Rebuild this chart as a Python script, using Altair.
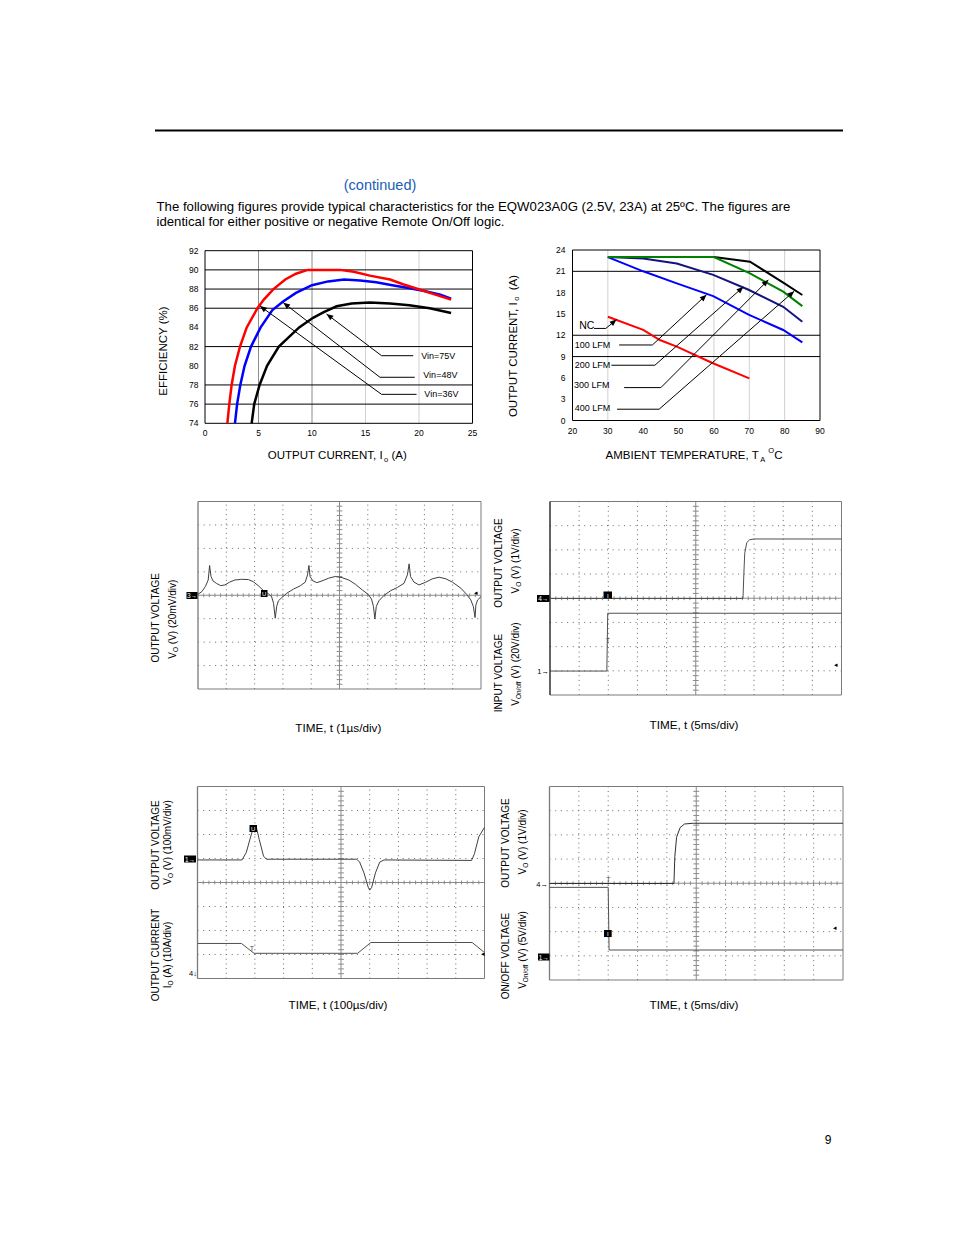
import altair as alt
import pandas as pd

FONT = "Liberation Sans"
MARGIN = 8
W, H = 938, 1219

# ===================== data =====================
# Efficiency vs output current
EFF_IO_36 = [2.09, 2.27, 2.49, 2.8, 3.27, 3.9, 4.9, 5.5, 6.4, 7.5, 8.5, 9.6, 12.6, 13.9, 15.4, 17.3, 18.5, 19.9, 21.3, 23.0]
EFF_36 = [74.0, 76.0, 78.0, 80.0, 82.0, 84.0, 86.0, 86.9, 88.0, 89.0, 89.6, 90.0, 90.0, 89.8, 89.4, 89.0, 88.5, 88.0, 87.5, 86.9]
EFF_IO_48 = [2.8, 3.0, 3.3, 3.7, 4.3, 5.2, 6.3, 7.3, 8.5, 10.0, 11.5, 13.0, 14.5, 16.0, 17.5, 19.0, 20.5, 22.0, 23.0]
EFF_48 = [74.0, 76.0, 78.0, 80.0, 82.0, 84.0, 85.8, 86.7, 87.6, 88.4, 88.8, 89.0, 88.9, 88.7, 88.4, 88.1, 87.8, 87.4, 87.0]
EFF_IO_75 = [4.36, 4.6, 5.1, 5.8, 6.9, 8.8, 10.1, 11.1, 12.3, 13.7, 15.4, 17.3, 19.1, 21.0, 23.0]
EFF_75 = [74.0, 76.0, 78.0, 80.0, 82.0, 84.0, 85.0, 85.6, 86.2, 86.5, 86.6, 86.5, 86.3, 86.0, 85.5]
EFF_LABELS = ["Vin=75V", "Vin=48V", "Vin=36V"]
EFF_LABEL_IO = [20.2, 20.4, 20.5]
EFF_LABEL_EFF = [81.0, 79.0, 77.1]
EFF_LEADER_START = [19.46, 19.6, 19.77]
EFF_LEADER_ELBOW = [16.5, 16.35, 16.5]
EFF_LEADER_EFF = [81.05, 78.8, 77.02]
EFF_TIP_IO = [11.36, 7.32, 5.14]
EFF_TIP_EFF = [85.4, 86.58, 86.23]
EFF_X_TICKS = [0, 5, 10, 15, 20, 25]
EFF_Y_TICKS = [74, 76, 78, 80, 82, 84, 86, 88, 90, 92]
EFF_HGRID = [76, 78, 82, 86, 88, 90]
EFF_VGRID_DARK = [5, 10]
EFF_VGRID_LIGHT = [15, 20]

# Derating: output current vs ambient temperature
DER_T_NC = [30, 40, 44.7, 49.5, 59.4, 70]
DER_I_NC = [14.6, 12.75, 11.33, 10.4, 8.13, 5.94]
DER_T_100 = [30, 40, 49.5, 59.8, 69.8, 79.6, 85]
DER_I_100 = [23.0, 21.0, 19.3, 17.5, 14.9, 12.74, 11.0]
DER_T_200 = [30, 40, 49.5, 59.8, 69.8, 79.6, 85]
DER_I_200 = [23.0, 22.8, 22.1, 20.5, 18.4, 16.0, 13.9]
DER_T_300 = [30, 60, 70.2, 79.6, 85]
DER_I_300 = [23.0, 23.0, 20.7, 18.13, 16.1]
DER_T_400 = [30, 60, 70.2, 79.6, 85]
DER_I_400 = [23.0, 23.0, 22.35, 19.4, 17.67]
DER_LABELS = ["NC", "100 LFM", "200 LFM", "300 LFM", "400 LFM"]
DER_LABEL_T = [21.9, 20.65, 20.65, 20.4, 20.65]
DER_LABEL_I = [13.28, 10.63, 7.78, 4.99, 1.69]
DER_LEADER_START = [26.1, 33.2, 31.0, 34.6, 32.6]
DER_LEADER_ELBOW = [29.43, 42.6, 43.3, 45.0, 44.5]
DER_LEADER_I = [12.96, 10.63, 7.78, 4.63, 1.59]
DER_TIP_T = [32.45, 57.9, 68.3, 75.4, 82.7]
DER_TIP_I = [14.2, 17.7, 18.8, 19.8, 18.2]
DER_X_TICKS = [20, 30, 40, 50, 60, 70, 80, 90]
DER_Y_TICKS = [0, 3, 6, 9, 12, 15, 18, 21, 24]
DER_HGRID = [9, 12, 21]
DER_VGRID = [30, 60, 70, 80]

# Scope 1: output ripple (divisions)
S1_T = [0.00, 0.14, 0.26, 0.36, 0.41, 0.46, 0.53, 0.65, 0.80, 0.95, 1.12, 1.30, 1.54, 1.78, 1.95, 2.13, 2.31,
        2.49, 2.60, 2.67, 2.73, 2.78, 2.84, 2.96, 3.14, 3.37, 3.61, 3.79, 3.87, 3.92, 3.96, 4.06, 4.20, 4.38,
        4.62, 4.85, 5.09, 5.33, 5.56, 5.80, 6.01, 6.13, 6.20, 6.25, 6.30, 6.39, 6.57, 6.80, 7.04, 7.28, 7.40,
        7.46, 7.51, 7.63, 7.81, 8.05, 8.28, 8.52, 8.76, 8.99, 9.29, 9.49, 9.64, 9.73, 9.79, 9.82, 9.88, 10.0]
S1_V = [4.04, 4.16, 4.37, 4.65, 5.27, 4.80, 4.61, 4.51, 4.41, 4.44, 4.56, 4.65, 4.68, 4.67, 4.58, 4.41, 4.20,
        4.06, 3.94, 3.66, 3.02, 3.52, 3.76, 3.90, 4.09, 4.26, 4.40, 4.56, 4.87, 5.27, 4.80, 4.61, 4.54, 4.61,
        4.73, 4.80, 4.75, 4.65, 4.47, 4.23, 4.04, 3.84, 3.52, 2.99, 3.52, 3.76, 3.99, 4.19, 4.33, 4.51, 4.87,
        5.34, 4.80, 4.56, 4.44, 4.56, 4.70, 4.77, 4.70, 4.56, 4.30, 4.04, 3.80, 3.52, 3.05, 3.59, 3.80, 3.94]
# Scope 2: start-up from input voltage
S2_VO_T = [0, 6.62, 6.65, 6.68, 6.75, 6.85, 7.0, 10]
S2_VO = [3.99, 3.99, 5.0, 5.86, 6.3, 6.42, 6.45, 6.45]
S2_VIN_T = [0, 1.95, 1.98, 10]
S2_VIN = [0.99, 0.99, 3.38, 3.38]
# Scope 3: transient response
S3_VO_T = [0, 1.55, 1.7, 1.85, 1.95, 2.05, 2.15, 2.3, 2.4, 5.55, 5.65, 5.8, 5.95, 6.0, 6.07, 6.2, 6.35, 6.5,
           9.55, 9.65, 9.8, 10]
S3_VO = [4.94, 4.94, 5.25, 5.9, 6.3, 6.3, 5.8, 5.1, 4.97, 4.97, 4.85, 4.4, 3.8, 3.68, 3.8, 4.4, 4.85, 4.94,
         4.92, 5.2, 5.9, 6.3]
S3_IO_T = [0, 1.53, 1.97, 5.58, 6.04, 9.57, 9.98]
S3_IO = [1.46, 1.46, 1.05, 1.05, 1.5, 1.5, 1.1]
# Scope 4: start-up from remote on/off
S4_VO_T = [0, 4.24, 4.27, 4.33, 4.45, 4.6, 4.9, 10]
S4_VO = [3.99, 3.99, 5.1, 5.9, 6.3, 6.45, 6.48, 6.48]
S4_ON_T = [0, 2.0, 2.03, 10]
S4_ON = [3.83, 3.83, 1.24, 1.24]

# ===================== helpers =====================
ONE = pd.DataFrame({"k": [0]})
AW = {' ': 278, '(': 333, ')': 333, '%': 889, ',': 278, '.': 278, '/': 278, '=': 584, 'µ': 576, '°': 400,
      'A': 667, 'C': 722, 'E': 667, 'F': 611, 'G': 778, 'I': 278, 'L': 556, 'M': 833, 'N': 722, 'O': 778,
      'P': 667, 'R': 722, 'T': 611, 'U': 722, 'V': 667, 'W': 944, 'Y': 667, 'B': 667,
      'a': 556, 'c': 500, 'd': 556, 'e': 556, 'f': 278, 'i': 222, 'm': 833, 'n': 556, 'o': 556, 's': 500,
      't': 278, 'v': 500, 'l': 222, 'u': 556, 'r': 333}


def tw(s, size):
    return sum(AW.get(c, 556) for c in s) * size / 1000.0


def vx(px):
    return px - MARGIN


def vy(py):
    return py - MARGIN


def scales(xd, yd, box):
    x0, x1, yt, yb = box
    xs = alt.Scale(domain=xd, range=[vx(x0), vx(x1)], nice=False, zero=False)
    ys = alt.Scale(domain=yd, range=[vy(yb), vy(yt)], nice=False, zero=False)
    return xs, ys


def rules(segs, xs, ys, color, width=1.0, dash=None):
    kw = dict(color=color, strokeWidth=width)
    if dash:
        kw["strokeDash"] = dash
    df = pd.DataFrame(segs, columns=["x", "y", "x2", "y2"])
    return alt.Chart(df).mark_rule(**kw).encode(
        x=alt.X("x:Q", scale=xs, axis=None), x2="x2:Q",
        y=alt.Y("y:Q", scale=ys, axis=None), y2="y2:Q")


def line(xv, yv, xs, ys, color, width):
    df = pd.DataFrame({"x": xv, "y": yv, "i": list(range(len(xv)))})
    return alt.Chart(df).mark_line(color=color, strokeWidth=width).encode(
        x=alt.X("x:Q", scale=xs, axis=None), y=alt.Y("y:Q", scale=ys, axis=None), order="i:Q")


ARROW = "M0,0L0.42,1L-0.42,1Z"


def heads(xv, yv, angles, xs, ys, size=180):
    df = pd.DataFrame({"x": xv, "y": yv, "a": angles})
    return alt.Chart(df).mark_point(shape=ARROW, filled=True, color="black", size=size, opacity=1).encode(
        x=alt.X("x:Q", scale=xs, axis=None), y=alt.Y("y:Q", scale=ys, axis=None),
        angle=alt.Angle("a:Q", scale=None))


def dtext(xv, yv, labels, xs, ys, size, align="left", baseline="middle", dx=0, dy=0):
    df = pd.DataFrame({"x": xv, "y": yv, "t": labels})
    return alt.Chart(df).mark_text(align=align, baseline=baseline, fontSize=size, font=FONT, color="black",
                                   dx=dx, dy=dy).encode(
        x=alt.X("x:Q", scale=xs, axis=None), y=alt.Y("y:Q", scale=ys, axis=None), text="t:N")


def tick_labels(xticks, yticks, xmin, ymin, xs, ys, size=8.5, ypad=6.5, xpad=5.5):
    return [
        dtext([xmin] * len(yticks), yticks, [str(v) for v in yticks], xs, ys, size, align="right", dx=-ypad),
        dtext(xticks, [ymin] * len(xticks), [str(v) for v in xticks], xs, ys, size, align="center",
              baseline="top", dy=xpad),
    ]


def ptext(x, y, s, size, angle=0, align="left", baseline="alphabetic", color="black"):
    kw = dict(text=s, fontSize=size, font=FONT, align=align, baseline=baseline, color=color)
    if angle:
        kw["angle"] = angle
    return alt.Chart(ONE).mark_text(**kw).encode(x=alt.value(vx(x)), y=alt.value(vy(y)))


def comp(x, y, pieces, angle=0):
    total = sum(tw(t, s) for t, s, _ in pieces)
    pos = -total / 2.0
    out = []
    for t, s, sh in pieces:
        lead = len(t) - len(t.lstrip(" "))
        p = pos + tw(" " * lead, s)
        body = t.strip(" ")
        if angle == 0:
            out.append(ptext(x + p, y + sh, body, s))
        else:
            out.append(ptext(x + sh, y - p, body, s, angle=270))
        pos += tw(t, s)
    return out


def tag(x0, x1, y0, y1, s, size=6.5):
    r = alt.Chart(ONE).mark_rect(color="black").encode(
        x=alt.value(vx(x0)), x2=alt.value(vx(x1)), y=alt.value(vy(y0)), y2=alt.value(vy(y1)))
    t = ptext((x0 + x1) / 2.0, (y0 + y1) / 2.0 + 0.5, s, size, align="center", baseline="middle", color="white")
    return [r, t]


layers = []

# ===================== page header =====================
layers.append(alt.Chart(ONE).mark_rule(color="black", strokeWidth=2).encode(
    x=alt.value(vx(155)), x2=alt.value(vx(843)), y=alt.value(vy(130.5))))
layers.append(ptext(380, 189.5, "(continued)", 14.5, align="center", color="#2160b4"))
layers.append(ptext(156.5, 210.5, "The following figures provide typical characteristics for the EQW023A0G "
                                  "(2.5V, 23A) at 25ºC. The figures are", 13.2))
layers.append(ptext(156.5, 225.5, "identical for either positive or negative Remote On/Off logic.", 13.2))
layers.append(ptext(828, 1144, "9", 12, align="center"))

# ===================== efficiency chart =====================
EFF_BOX = (205.0, 472.5, 250.7, 423.3)
exs, eys = scales([0, 25], [74, 92], EFF_BOX)
eff_lead = []
for i in range(3):
    eff_lead.append((EFF_LEADER_START[i], EFF_LEADER_EFF[i], EFF_LEADER_ELBOW[i], EFF_LEADER_EFF[i]))
    eff_lead.append((EFF_LEADER_ELBOW[i], EFF_LEADER_EFF[i], EFF_TIP_IO[i], EFF_TIP_EFF[i]))
eff = alt.layer(
    rules([(v, 74, v, 92) for v in EFF_VGRID_DARK], exs, eys, "#8c8c8c", 1),
    rules([(v, 74, v, 92) for v in EFF_VGRID_LIGHT], exs, eys, "#d0d0d0", 1),
    rules([(0, v, 25, v) for v in EFF_HGRID], exs, eys, "black", 1),
    rules([(0, 74, 25, 74), (0, 92, 25, 92), (0, 74, 0, 92), (25, 74, 25, 92)], exs, eys, "black", 1),
    *tick_labels(EFF_X_TICKS, EFF_Y_TICKS, 0, 74, exs, eys),
    line(EFF_IO_75, EFF_75, exs, eys, "black", 2.5),
    line(EFF_IO_48, EFF_48, exs, eys, "#0000ff", 2.5),
    line(EFF_IO_36, EFF_36, exs, eys, "#ff0000", 2.5),
    rules(eff_lead, exs, eys, "black", 1),
    heads(EFF_TIP_IO, EFF_TIP_EFF, [307, 308, 306], exs, eys),
    dtext(EFF_LABEL_IO, EFF_LABEL_EFF, EFF_LABELS, exs, eys, 9),
)
layers.append(eff)
layers.append(ptext(167, 351, "EFFICIENCY (%)", 11.5, angle=270, align="center"))
layers += comp(337.3, 459, [("OUTPUT CURRENT, I", 11.5, 0), ("o", 7.5, 2.5), (" (A)", 11.5, 0)])

# ===================== derating chart =====================
DER_BOX = (572.5, 820.0, 250.0, 420.5)
dxs, dys = scales([20, 90], [0, 24], DER_BOX)
der_lead = []
for i in range(5):
    der_lead.append((DER_LEADER_START[i], DER_LEADER_I[i], DER_LEADER_ELBOW[i], DER_LEADER_I[i]))
    der_lead.append((DER_LEADER_ELBOW[i], DER_LEADER_I[i], DER_TIP_T[i], DER_TIP_I[i]))
der = alt.layer(
    rules([(v, 0, v, 24) for v in DER_VGRID], dxs, dys, "#d0d0d0", 1),
    rules([(20, v, 90, v) for v in DER_HGRID], dxs, dys, "black", 1),
    rules([(20, 0, 90, 0), (20, 24, 90, 24), (20, 0, 20, 24), (90, 0, 90, 24)], dxs, dys, "black", 1),
    *tick_labels(DER_X_TICKS, DER_Y_TICKS, 20, 0, dxs, dys, ypad=7, xpad=6),
    line(DER_T_400, DER_I_400, dxs, dys, "black", 2),
    line(DER_T_200, DER_I_200, dxs, dys, "#14147e", 2),
    line(DER_T_100, DER_I_100, dxs, dys, "#0000ff", 2),
    line(DER_T_300, DER_I_300, dxs, dys, "#008000", 2),
    line(DER_T_NC, DER_I_NC, dxs, dys, "#ff0000", 2),
    rules(der_lead, dxs, dys, "black", 1),
    heads(DER_TIP_T, DER_TIP_I, [51, 47, 48, 45, 49], dxs, dys),
    dtext(DER_LABEL_T[:1], DER_LABEL_I[:1], DER_LABELS[:1], dxs, dys, 10.5),
    dtext(DER_LABEL_T[1:], DER_LABEL_I[1:], DER_LABELS[1:], dxs, dys, 9),
)
layers.append(der)
layers += comp(517, 346, [("OUTPUT CURRENT, I", 11.5, 0), ("o", 7.5, 2.0), ("  (A)", 11.5, 0)], angle=270)
layers += comp(694, 459, [("AMBIENT TEMPERATURE, T", 11.5, 0), ("A", 7.5, 2.5), (" ", 11.5, 0),
                          ("O", 7.5, -6), ("C", 11.5, 0)])


# ===================== oscilloscope panels =====================
def scope_panel(box, traces, left_dark=False):
    xs, ys = scales([0, 10], [0, 8], box)
    hdots = [(0, j, 10, j) for j in range(1, 8) if j != 4]
    vdots = [(i, 0, i, 8) for i in range(1, 10) if i != 5]
    center = [(5, 0, 5, 8), (0, 4, 10, 4)]
    ticks = [(k / 5.0, 3.92, k / 5.0, 4.08) for k in range(1, 50) if k != 25] + \
            [(4.9, k / 5.0, 5.1, k / 5.0) for k in range(1, 40) if k != 20]
    frame = [(0, 0, 10, 0), (0, 8, 10, 8), (10, 0, 10, 8)]
    ls = [rules(hdots, xs, ys, "#6a6a6a", 1, [1, 4.7]),
          rules(vdots, xs, ys, "#6a6a6a", 1, [1, 3.7]),
          rules(center, xs, ys, "#8a8a8a", 1),
          rules(ticks, xs, ys, "#8a8a8a", 1),
          rules(frame, xs, ys, "#7a7a7a", 1),
          rules([(0, 0, 0, 8)], xs, ys, "#111111" if left_dark else "#7a7a7a", 1.3)]
    for tx, ty, col in traces:
        ls.append(line(tx, ty, xs, ys, col, 1))
    return alt.layer(*ls)


S1_BOX = (198.0, 481.0, 501.5, 689.0)
S2_BOX = (550.0, 841.5, 501.5, 695.0)
S3_BOX = (197.5, 484.5, 786.5, 978.5)
S4_BOX = (549.5, 843.0, 786.5, 980.0)

layers.append(scope_panel(S1_BOX, [(S1_T, S1_V, "#404040")]))
layers.append(scope_panel(S2_BOX, [(S2_VO_T, S2_VO, "#505050"), (S2_VIN_T, S2_VIN, "#505050")], left_dark=True))
layers.append(scope_panel(S3_BOX, [(S3_VO_T, S3_VO, "#404040"), (S3_IO_T, S3_IO, "#505050")]))
layers.append(scope_panel(S4_BOX, [(S4_VO_T, S4_VO, "#303030"), (S4_ON_T, S4_ON, "#505050")]))

# channel / trigger markers
layers += tag(186.5, 197.5, 592.0, 599.0, "3→")
layers += tag(261.0, 267.5, 590.0, 597.0, "U", 6)
layers.append(ptext(476, 595, "◂", 7, align="center"))

layers += tag(537.0, 549.5, 595.0, 602.0, "4→")
layers += tag(603.5, 612.0, 591.5, 598.5, "I", 6)
layers.append(ptext(549, 673.5, "1→", 7.5, align="right"))
layers.append(ptext(608, 643, "T", 7, align="center", color="#505050"))
layers.append(ptext(836, 667, "◂", 7, align="center"))

layers += tag(184.0, 196.0, 855.5, 862.5, "1→")
layers += tag(249.5, 257.0, 825.0, 832.0, "U", 6)
layers.append(ptext(197, 976, "4↓", 7.5, align="right"))
layers.append(ptext(252, 951, "T", 7, align="center", color="#505050"))
layers.append(ptext(483, 956, "◂", 7, align="center"))

layers.append(ptext(548, 886.5, "4→", 7.5, align="right"))
layers.append(ptext(608.3, 882, "T", 7, align="center", color="#505050"))
layers += tag(604.0, 611.7, 930.0, 937.0, "I", 6)
layers += tag(538.0, 549.5, 953.5, 960.5, "1→")
layers.append(ptext(835, 930, "◂", 7, align="center"))

# scope axis titles
layers.append(ptext(159.4, 617.8, "OUTPUT VOLTAGE", 10, angle=270, align="center"))
layers += comp(176.1, 619.2, [("V", 10, 0), ("O", 6.5, 1.5), (" (V) (20mV/div)", 10, 0)], angle=270)
layers.append(ptext(338.3, 732, "TIME, t (1µs/div)", 11.7, align="center"))

layers.append(ptext(501.6, 563, "OUTPUT VOLTAGE", 10, angle=270, align="center"))
layers += comp(519.1, 561, [("V", 10, 0), ("O", 6.5, 1.5), (" (V) (1V/div)", 10, 0)], angle=270)
layers.append(ptext(501.6, 673, "INPUT VOLTAGE", 10, angle=270, align="center"))
layers += comp(519.1, 664, [("V", 10, 0), ("On/off", 6.5, 1.5), (" (V) (20V/div)", 10, 0)], angle=270)
layers.append(ptext(694, 729, "TIME, t (5ms/div)", 11.7, align="center"))

layers.append(ptext(159.1, 845, "OUTPUT VOLTAGE", 10, angle=270, align="center"))
layers += comp(171.4, 842.5, [("V", 10, 0), ("O", 6.5, 1.5), (" (V) (100mV/div)", 10, 0)], angle=270)
layers.append(ptext(159.1, 955, "OUTPUT  CURRENT", 10, angle=270, align="center"))
layers += comp(171.4, 955, [("I", 10, 0), ("O", 6.5, 1.5), (" (A) (10A/div)", 10, 0)], angle=270)
layers.append(ptext(338, 1009, "TIME, t (100µs/div)", 11.7, align="center"))

layers.append(ptext(508.6, 843, "OUTPUT VOLTAGE", 10, angle=270, align="center"))
layers += comp(526.1, 842, [("V", 10, 0), ("O", 6.5, 1.5), (" (V) (1V/div)", 10, 0)], angle=270)
layers.append(ptext(508.6, 956, "ON/OFF VOLTAGE", 10, angle=270, align="center"))
layers += comp(526.1, 950, [("V", 10, 0), ("On/off", 6.5, 1.5), (" (V) (5V/div)", 10, 0)], angle=270)
layers.append(ptext(694, 1009, "TIME, t (5ms/div)", 11.7, align="center"))

chart = alt.layer(*layers).resolve_scale(x="independent", y="independent").properties(
    width=W, height=H, autosize=alt.AutoSizeParams(type="none"), padding=0, background="white"
).configure_view(stroke="transparent")

chart.save("out.html", embed_options={"renderer": "svg", "actions": False})
